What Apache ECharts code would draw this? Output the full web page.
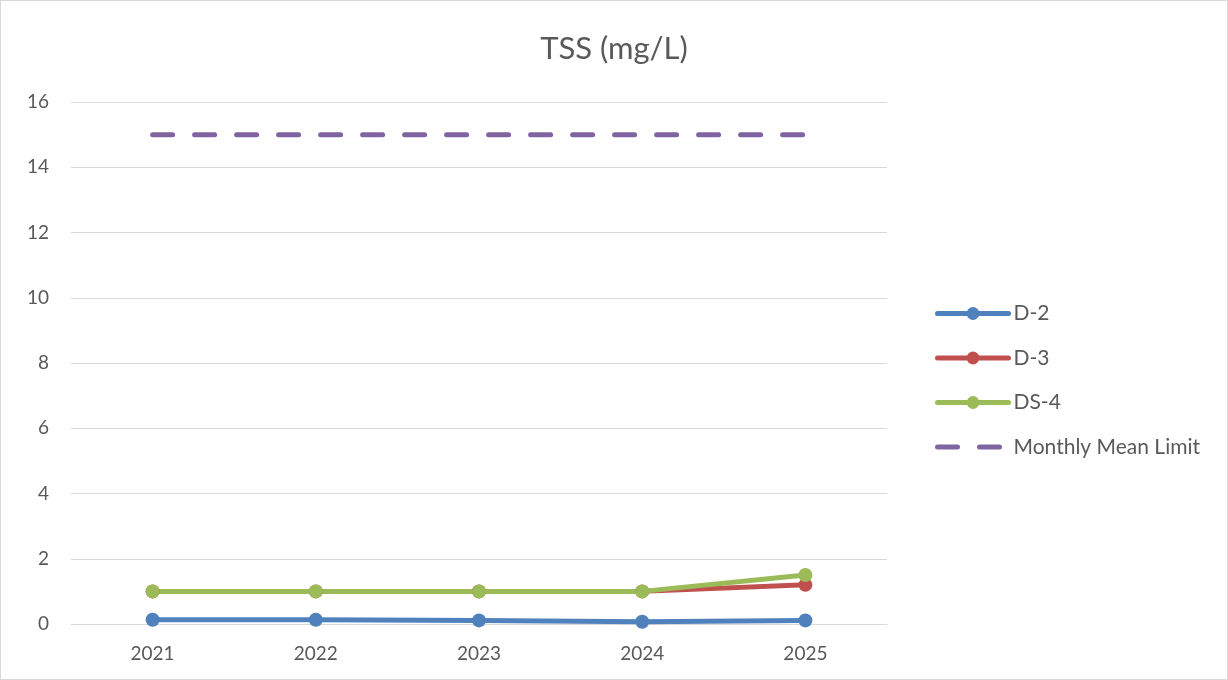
<!DOCTYPE html>
<html><head><meta charset="utf-8">
<script src="https://cdn.jsdelivr.net/npm/echarts@6/dist/echarts.min.js"></script>
<style>html,body{margin:0;padding:0;background:#fff}#c{width:1228px;height:680px;box-sizing:border-box;border:1px solid #d9d9d9}</style>
</head><body><div id="c"></div>
<script>
const categories = ['2021','2022','2023','2024','2025'];
const d2 = [0.13, 0.13, 0.11, 0.07, 0.11];
const d3 = [1, 1, 1, 1, 1.2];
const ds4 = [1, 1, 1, 1, 1.5];
const limit = [15, 15, 15, 15, 15];
const yTicks = [0, 2, 4, 6, 8, 10, 12, 14, 16];

const font = 'Lato, "Open Sans", sans-serif';
const chart = echarts.init(document.getElementById('c'));
function lineSeries(name, data, color) {
  return {name, type:'line', data, symbol:'circle', symbolSize:14,
    lineStyle:{width:5, color, cap:'round'}, itemStyle:{color}, z:3};
}
chart.setOption({
  animation:false,
  title:{text:'TSS (mg/L)', left:'center', top:27,
    textStyle:{fontFamily:font, fontSize:31, fontWeight:'normal', color:'#595959'}},
  grid:{left:70, right:340, top:101, bottom:55},
  legend:{orient:'vertical', left:929, top:297, itemGap:23.5, itemWidth:71, itemHeight:16,
    lineStyle:{width:5},
    textStyle:{fontFamily:font, fontSize:21, color:'#595959'},
    data:['D-2','D-3','DS-4',{name:'Monthly Mean Limit', itemStyle:{opacity:0}}]},
  xAxis:{type:'category', data:categories, boundaryGap:true,
    axisLine:{lineStyle:{color:'#d9d9d9', width:1}}, axisTick:{show:false},
    axisLabel:{fontFamily:font, fontSize:19, color:'#595959', margin:20}},
  yAxis:{type:'value', min:0, max:16, interval:2,
    axisLine:{show:false}, axisTick:{show:false},
    splitLine:{lineStyle:{color:'#d9d9d9', width:1}},
    axisLabel:{fontFamily:font, fontSize:19, color:'#595959', margin:22,
      formatter:v=>yTicks.includes(v)?String(v):''}},
  series:[
    lineSeries('D-2', d2, '#4F81BD'),
    lineSeries('D-3', d3, '#C0504D'),
    lineSeries('DS-4', ds4, '#9BBB59'),
    {name:'Monthly Mean Limit', type:'line', data:limit, symbol:'none',
      lineStyle:{width:5, color:'#8064A2', type:[20,22], cap:'round'}, itemStyle:{color:'#8064A2'}}
  ]
});
</script></body></html>
